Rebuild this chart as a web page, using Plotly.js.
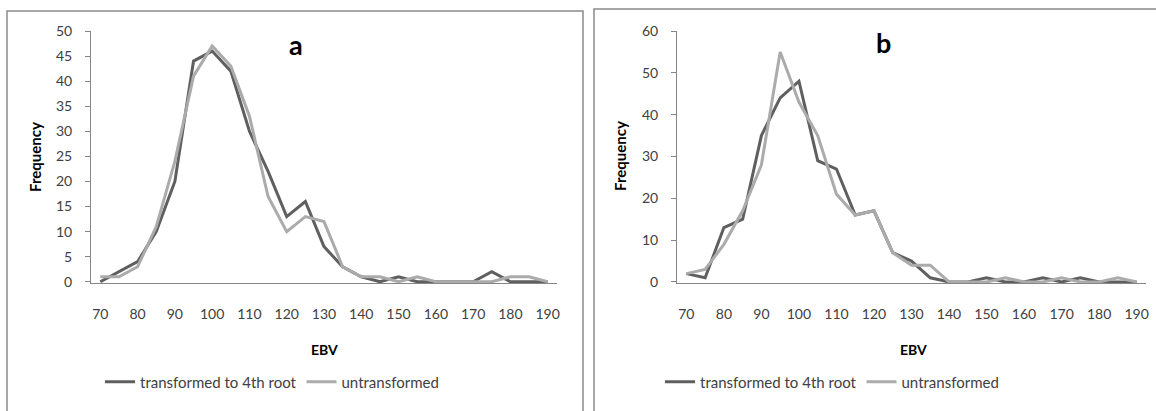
<!DOCTYPE html>
<html>
<head>
<meta charset="utf-8">
<script src="https://cdn.plot.ly/plotly-3.0.1.min.js"></script>
<style>html,body{margin:0;padding:0;background:#fff;}#chart{width:1156px;height:411px;}</style>
</head>
<body>
<div id="chart"></div>
<script>
// EBV categories (x) and tick labels
var ebv = [70,75,80,85,90,95,100,105,110,115,120,125,130,135,140,145,150,155,160,165,170,175,180,185,190];
var ebvTicks = [70,80,90,100,110,120,130,140,150,160,170,180,190];

// Panel a frequencies
var aTransformed   = [0,2,4,10,20,44,46,42,30,22,13,16,7,3,1,0,1,0,0,0,0,2,0,0,0];
var aUntransformed = [1,1,3,11,24,41,47,43,33,17,10,13,12,3,1,1,0,1,0,0,0,0,1,1,0];

// Panel b frequencies
var bTransformed   = [2,1,13,15,35,44,48,29,27,16,17,7,5,1,0,0,1,0,0,1,0,1,0,0,0];
var bUntransformed = [2,3,9,17,28,55,43,35,21,16,17,7,4,4,0,0,0,1,0,0,1,0,0,1,0];

var seriesNames = ['transformed to 4th root', 'untransformed'];
var darkColor = '#5f5f5f', lightColor = '#ababab';

var W = 1156, H = 411;
function px(x){ return x / W; }
function py(y){ return 1 - y / H; }

var FONT = 'Lato, "Open Sans", sans-serif';

var traces = [
  {x: ebv, y: aTransformed, name: seriesNames[0], mode: 'lines', line: {color: darkColor, width: 3}, xaxis: 'x', yaxis: 'y', legend: 'legend'},
  {x: ebv, y: aUntransformed, name: seriesNames[1], mode: 'lines', line: {color: lightColor, width: 3}, xaxis: 'x', yaxis: 'y', legend: 'legend'},
  {x: ebv, y: bTransformed, name: seriesNames[0], mode: 'lines', line: {color: darkColor, width: 3}, xaxis: 'x2', yaxis: 'y2', legend: 'legend2'},
  {x: ebv, y: bUntransformed, name: seriesNames[1], mode: 'lines', line: {color: lightColor, width: 3}, xaxis: 'x2', yaxis: 'y2', legend: 'legend2'}
];

var tickFont = {family: FONT, size: 14, color: '#404040'};
function xax(domain, anchor){
  return {domain: domain, anchor: anchor, range: [67.5, 192.5], tickvals: ebvTicks, ticktext: ebvTicks.map(String),
    showline: true, linecolor: '#868686', linewidth: 1, ticks: '', showgrid: false, zeroline: false,
    tickfont: tickFont, ticklabelstandoff: 18, fixedrange: true};
}
function yax(domain, anchor, max, dt){
  return {domain: domain, anchor: anchor, range: [-0.25, max], dtick: dt, tick0: 0,
    showline: true, linecolor: '#868686', linewidth: 1, ticks: 'outside', ticklen: 5, tickcolor: '#868686',
    showgrid: false, zeroline: false, tickfont: tickFont, ticklabelstandoff: 10, fixedrange: true};
}

var yDom = [py(283), py(31)];
var legendFont = {family: FONT, size: 15, color: '#404040'};
var layout = {
  width: W, height: H,
  margin: {l: 0, r: 0, t: 0, b: 0},
  paper_bgcolor: '#fff', plot_bgcolor: 'rgba(0,0,0,0)',
  showlegend: true,
  xaxis: xax([px(91), px(557)], 'y'),
  yaxis: yax(yDom, 'x', 50, 5),
  xaxis2: xax([px(677), px(1146)], 'y2'),
  yaxis2: yax(yDom, 'x2', 60, 10),
  legend: {orientation: 'h', x: px(100), y: py(382), xanchor: 'left', yanchor: 'middle',
    font: legendFont, bgcolor: 'rgba(0,0,0,0)', itemwidth: 30, tracegroupgap: 0},
  legend2: {orientation: 'h', x: px(660), y: py(382), xanchor: 'left', yanchor: 'middle',
    font: legendFont, bgcolor: 'rgba(0,0,0,0)', itemwidth: 30, tracegroupgap: 0},
  shapes: [
    {type: 'rect', xref: 'paper', yref: 'paper', x0: px(7), x1: px(583), y0: py(430), y1: py(11), line: {color: '#8a8a8a', width: 1.5}, fillcolor: 'rgba(0,0,0,0)', layer: 'below'},
    {type: 'rect', xref: 'paper', yref: 'paper', x0: px(594), x1: px(1170), y0: py(430), y1: py(9), line: {color: '#8a8a8a', width: 1.5}, fillcolor: 'rgba(0,0,0,0)', layer: 'below'}
  ],
  annotations: [
    {text: '<b>a</b>', xref: 'paper', yref: 'paper', x: px(296), y: py(45), showarrow: false, xanchor: 'center', yanchor: 'middle', font: {family: FONT, size: 27, color: '#000'}},
    {text: '<b>b</b>', xref: 'paper', yref: 'paper', x: px(883), y: py(43), showarrow: false, xanchor: 'center', yanchor: 'middle', font: {family: FONT, size: 27, color: '#000'}},
    {text: '<b>Frequency</b>', xref: 'paper', yref: 'paper', x: px(35), y: py(157), textangle: -90, showarrow: false, xanchor: 'center', yanchor: 'middle', font: {family: FONT, size: 15, color: '#000'}},
    {text: '<b>Frequency</b>', xref: 'paper', yref: 'paper', x: px(620), y: py(156), textangle: -90, showarrow: false, xanchor: 'center', yanchor: 'middle', font: {family: FONT, size: 15, color: '#000'}},
    {text: '<b>EBV</b>', xref: 'paper', yref: 'paper', x: px(324), y: py(349), showarrow: false, xanchor: 'center', yanchor: 'middle', font: {family: FONT, size: 14, color: '#000'}},
    {text: '<b>EBV</b>', xref: 'paper', yref: 'paper', x: px(913), y: py(349), showarrow: false, xanchor: 'center', yanchor: 'middle', font: {family: FONT, size: 14, color: '#000'}}
  ]
};

Plotly.newPlot('chart', traces, layout, {staticPlot: true, displayModeBar: false});
</script>
</body>
</html>
